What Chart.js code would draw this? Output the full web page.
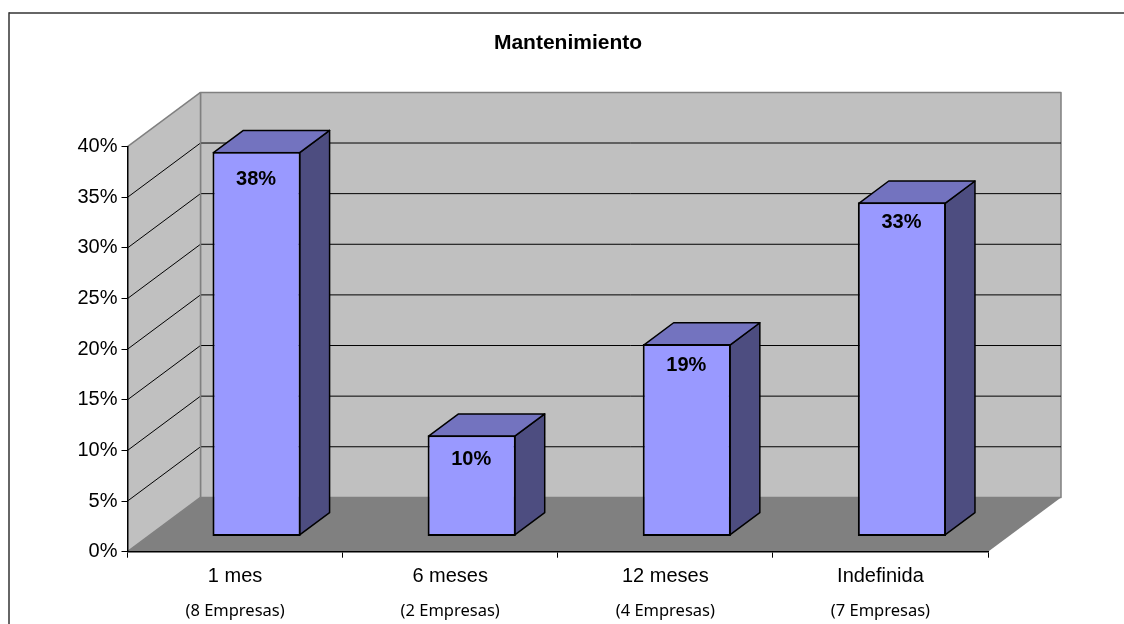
<!DOCTYPE html>
<html>
<head>
<meta charset="utf-8">
<title>Mantenimiento</title>
<script src="https://cdn.jsdelivr.net/npm/chart.js@4/dist/chart.umd.min.js"></script>
<style>
    html, body { margin: 0; padding: 0; background: #fff; }
    canvas { display: block; }
</style>
</head>
<body>
<canvas id="mantenimiento" width="1124" height="624"></canvas>
<script>
const categories = ['1 mes', '6 meses', '12 meses', 'Indefinida'];
const empresas = ['(8 Empresas)', '(2 Empresas)', '(4 Empresas)', '(7 Empresas)'];
const values = [38, 10, 19, 33];
const yMax = 40;
const yStep = 5;

// 3D box: how far the room goes back, and where the bars sit inside it
const DEPTH_X = 73;
const DEPTH_Y = 54.3;
const BAR_SHIFT_X = 21.5;
const BAR_SHIFT_Y = 15.3;
const BAR_DEPTH = 0.41;

// how far each value label sits below the top of its bar
const labelDrop = [28, 24.5, 21.5, 20.5];

function poly(ctx, pts, fill, stroke, width) {
    ctx.beginPath();
    pts.forEach((p, i) => i ? ctx.lineTo(p[0], p[1]) : ctx.moveTo(p[0], p[1]));
    ctx.closePath();
    if (fill) {
        ctx.fillStyle = fill;
        ctx.fill();
    }
    if (stroke) {
        ctx.strokeStyle = stroke;
        ctx.lineWidth = width || 1;
        ctx.lineJoin = 'round';
        ctx.stroke();
    }
}

function line(ctx, x1, y1, x2, y2, color, width) {
    ctx.beginPath();
    ctx.moveTo(x1, y1);
    ctx.lineTo(x2, y2);
    ctx.strokeStyle = color;
    ctx.lineWidth = width || 1;
    ctx.stroke();
}

const frame3d = {
    id: 'frame3d',
    afterLayout(chart) {
        // title is centred on the outer frame, not on the plot
        chart.titleBlock.left = 12;
        chart.titleBlock.right = 1124;
    },
    beforeDraw(chart) {
        const ctx = chart.ctx;
        const { left, right, top, bottom } = chart.chartArea;
        const backL = left + DEPTH_X;
        const backR = right + DEPTH_X;
        const backT = top - DEPTH_Y;
        const backB = bottom - DEPTH_Y;

        ctx.save();
        ctx.fillStyle = '#fff';
        ctx.fillRect(0, 0, chart.width, chart.height);

        // outer frame, open on the right and at the bottom
        line(ctx, 9, 13, chart.width, 13, '#333', 1.5);
        line(ctx, 9, 12.25, 9, chart.height, '#333', 1.5);

        poly(ctx, [[backL, backT], [backR, backT], [backR, backB], [backL, backB]], '#c0c0c0', '#808080', 1.5);
        poly(ctx, [[left, top], [backL, backT], [backL, backB], [left, bottom]], '#c0c0c0');
        poly(ctx, [[left, bottom], [right, bottom], [backR, backB], [backL, backB]], '#808080');

        // gridlines run along the side wall and across the back
        const y = chart.scales.y;
        y.ticks.forEach(t => {
            const py = y.getPixelForValue(t.value);
            if (t.value === 0) return;
            if (t.value < yMax) {
                line(ctx, left, py, backL, py - DEPTH_Y, '#000');
                line(ctx, backL, py - DEPTH_Y, backR, py - DEPTH_Y, '#000');
            }
        });
        line(ctx, left, top, backL, backT, '#808080', 1.5);
        line(ctx, left, bottom, backL, backB, '#808080', 1.5);
        line(ctx, backL, backT, backL, backB, '#808080', 1.5);
        ctx.restore();
    },
    beforeDatasetDraw(chart, args) {
        const ctx = chart.ctx;
        const dx = DEPTH_X * BAR_DEPTH;
        const dy = DEPTH_Y * BAR_DEPTH;

        ctx.save();
        ctx.translate(BAR_SHIFT_X, -BAR_SHIFT_Y);
        args.meta.data.forEach(bar => {
            const r = bar.x + bar.width / 2 - 1;
            const l = bar.x - bar.width / 2 + 1;
            const t = bar.y + 1;
            const b = bar.base - 1;
            poly(ctx, [[r, t], [r + dx, t - dy], [r + dx, b - dy], [r, b]], '#4d4d80', '#000', 1.5);
            poly(ctx, [[l, t], [l + dx, t - dy], [r + dx, t - dy], [r, t]], '#7373bf', '#000', 1.5);
        });
    },
    afterDatasetDraw(chart, args) {
        const ctx = chart.ctx;
        ctx.font = 'bold 20px "Liberation Sans"';
        ctx.fillStyle = '#000';
        ctx.textAlign = 'center';
        ctx.textBaseline = 'middle';
        args.meta.data.forEach((bar, i) => {
            ctx.fillText(values[i] + '%', bar.x - 0.5, bar.y + labelDrop[i]);
        });
        ctx.restore();
    }
};

document.addEventListener('DOMContentLoaded', () => {
    new Chart(document.getElementById('mantenimiento').getContext('2d'), {
        type: 'bar',
        data: {
            labels: categories,
            datasets: [{
                label: 'Mantenimiento',
                data: values,
                backgroundColor: '#9999ff',
                borderColor: '#000',
                borderWidth: 2,
                borderSkipped: false,
                categoryPercentage: 1,
                barPercentage: 0.41,
                clip: false
            }]
        },
        options: {
            responsive: false,
            animation: false,
            layout: {
                padding: { left: 57.5, right: 136, top: 31, bottom: 0 }
            },
            plugins: {
                legend: { display: false },
                tooltip: { enabled: false },
                title: {
                    display: true,
                    text: 'Mantenimiento',
                    color: '#000',
                    font: { family: '"Liberation Sans"', size: 21, weight: 'bold' },
                    padding: { top: 0, bottom: 90.5 }
                }
            },
            scales: {
                x: {
                    weight: 0,
                    afterFit: s => { s.height = 38; },
                    grid: { drawOnChartArea: false, color: '#000', tickLength: 6, offset: true },
                    border: { color: '#000', width: 1.5 },
                    ticks: {
                        color: '#000',
                        padding: 7,
                        maxRotation: 0,
                        autoSkip: false,
                        font: { family: '"Liberation Sans"', size: 20 }
                    }
                },
                x2: {
                    type: 'category',
                    position: 'bottom',
                    weight: 1,
                    labels: empresas,
                    offset: true,
                    afterFit: s => { s.height = 34.3; },
                    grid: { display: false },
                    border: { display: false },
                    ticks: {
                        color: '#000',
                        padding: 4,
                        maxRotation: 0,
                        autoSkip: false,
                        font: { family: '"Noto Sans"', size: 16.5 }
                    }
                },
                y: {
                    min: 0,
                    max: yMax,
                    afterFit: s => { s.width = 70; },
                    grid: { drawOnChartArea: false, color: '#000', tickLength: 6 },
                    border: { color: '#000', width: 1.5 },
                    ticks: {
                        stepSize: yStep,
                        color: '#000',
                        padding: 4,
                        callback: v => v + '%',
                        font: { family: '"Liberation Sans"', size: 20 }
                    }
                }
            }
        },
        plugins: [frame3d]
    });
});
</script>
</body>
</html>
